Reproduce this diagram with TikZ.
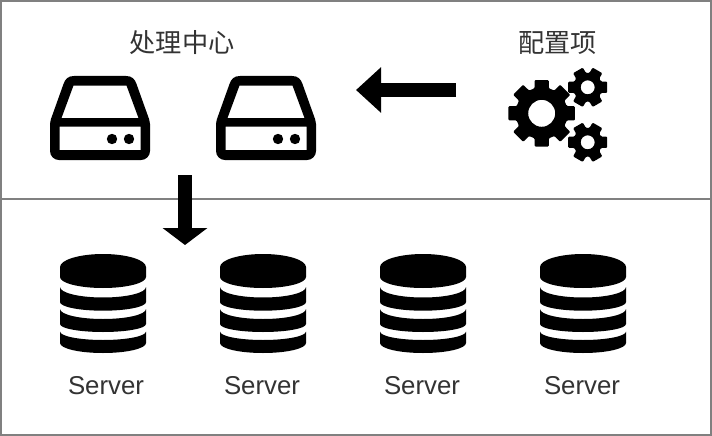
\documentclass[tikz,border=0pt]{standalone}
\usepackage{fontspec}
\setmainfont{Liberation Sans}
\newfontfamily\cjkfont{Noto Sans CJK SC}
\usetikzlibrary{arrows.meta}
\definecolor{framegray}{HTML}{808080}
\definecolor{textgray}{HTML}{333333}
\tikzset{
  frameline/.style={draw=framegray,line width=2pt},
  iconfill/.style={fill=black,even odd rule},
  cjklabel/.style={font=\cjkfont\fontsize{26.2}{30}\selectfont,text=textgray,inner sep=0pt},
  serverlabel/.style={font=\fontsize{25.8}{30}\selectfont,text=textgray,inner sep=0pt},
  blockarrow/.style={line width=14pt,-{Triangle[length=#1,width=44pt]}},
}
\newcommand{\driveicon}[1]{%
  \begin{scope}[shift={(#1,0)}]
    \fill[iconfill]
      (59,160) .. controls (54,160) and (50,156) .. (50,151) -- (50,124)
      .. controls (50,122) and (50.2,121) .. (50.8,119.5) -- (63.5,84)
      .. controls (65.2,79) and (68,76) .. (74,76) -- (126,76)
      .. controls (132,76) and (134.8,79) .. (136.5,84) -- (149.2,119.5)
      .. controls (149.8,121) and (150,122) .. (150,124) -- (150,151)
      .. controls (150,156) and (146,160) .. (141,160) -- cycle
      (73.5,85.5) -- (126.5,85.5) -- (138.5,118) -- (61.5,118) -- cycle
      (59.5,126.5) -- (140.5,126.5) -- (140.5,150) -- (59.5,150) -- cycle;
    \fill (112,139) circle[radius=5.2];
    \fill (129,139) circle[radius=5.2];
  \end{scope}}
% #1 top side y, #2 top depth, #3 bottom side y, #4 bottom depth
\newcommand{\sband}[4]{%
  (60,#1) .. controls (60,#1+0.55*#2) and (79,#1+#2) .. (103,#1+#2)
  .. controls (127,#1+#2) and (146,#1+0.55*#2) .. (146,#1)
  -- (146,#3) .. controls (146,#3+0.55*#4) and (127,#3+#4) .. (103,#3+#4)
  .. controls (79,#3+#4) and (60,#3+0.55*#4) .. (60,#3) -- cycle}
\newcommand{\servericon}[1]{%
  \begin{scope}[shift={(#1,0)}]
    \fill (60,267) .. controls (60,260) and (79,254) .. (103,254)
      .. controls (127,254) and (146,260) .. (146,267) -- (146,277)
      .. controls (146,283) and (127,288) .. (103,288)
      .. controls (79,288) and (60,283) .. (60,277) -- cycle;
    \fill \sband{287}{10.5}{302}{8.7};
    \fill \sband{309}{10}{324}{8};
    \fill \sband{331.5}{8.5}{343}{10};
  \end{scope}}
% #1 cx, #2 cy, #3 teeth, #4 tip r, #5 root r, #6 hole r, #7 tip half angle, #8 root half angle
\newcommand{\gearicon}[8]{%
  \pgfmathsetmacro{\gstep}{360/#3}
  \pgfmathtruncatemacro{\glast}{#3-1}
  \fill[iconfill,rounded corners=1pt]
    ([shift={(#1,#2)}]-#8:#5)
    \foreach \k in {0,...,\glast}{
      -- ([shift={(#1,#2)}]{\k*\gstep-#8}:#5)
      -- ([shift={(#1,#2)}]{\k*\gstep-#7}:#4)
      -- ([shift={(#1,#2)}]{\k*\gstep+#7}:#4)
      -- ([shift={(#1,#2)}]{\k*\gstep+#8}:#5)
    } -- cycle
    [sharp corners] (#1,#2) circle[radius=#6];}
\begin{document}
\begin{tikzpicture}[x=1pt,y=-1pt]
  \useasboundingbox (0,0) rectangle (712,436);
  \fill[white] (0,0) rectangle (712,436);
  \draw[frameline] (1,1) rectangle (711,435);
  \coordinate (divL) at (1,199);
  \coordinate (divR) at (711,199);
  \draw[frameline] (divL) -- (divR);

  \node[cjklabel] (center) at (182,43) {处理中心};
  \node[cjklabel] (config) at (557.5,43) {配置项};

  \driveicon{0}
  \driveicon{166}

  \gearicon{541.7}{113.3}{8}{34}{26}{13.5}{12}{16}
  \gearicon{587.7}{87.3}{6}{20.3}{14.5}{7}{16}{23}
  \gearicon{587.7}{142.3}{6}{20.3}{14.5}{7}{16}{23}

  \coordinate (cfgTail) at (456,90);
  \coordinate (cfgTip) at (356,90);
  \coordinate (procTail) at (185,175);
  \coordinate (procTip) at (185,245);
  \draw[blockarrow=25pt] (cfgTail) -- (cfgTip);
  \draw[blockarrow=17pt] (procTail) -- (procTip);

  \servericon{0}
  \servericon{160}
  \servericon{320}
  \servericon{480}

  \node[serverlabel] (s1) at (106,385.5) {Server};
  \node[serverlabel] (s2) at (262,385.5) {Server};
  \node[serverlabel] (s3) at (422,385.5) {Server};
  \node[serverlabel] (s4) at (582,385.5) {Server};
\end{tikzpicture}
\end{document}
